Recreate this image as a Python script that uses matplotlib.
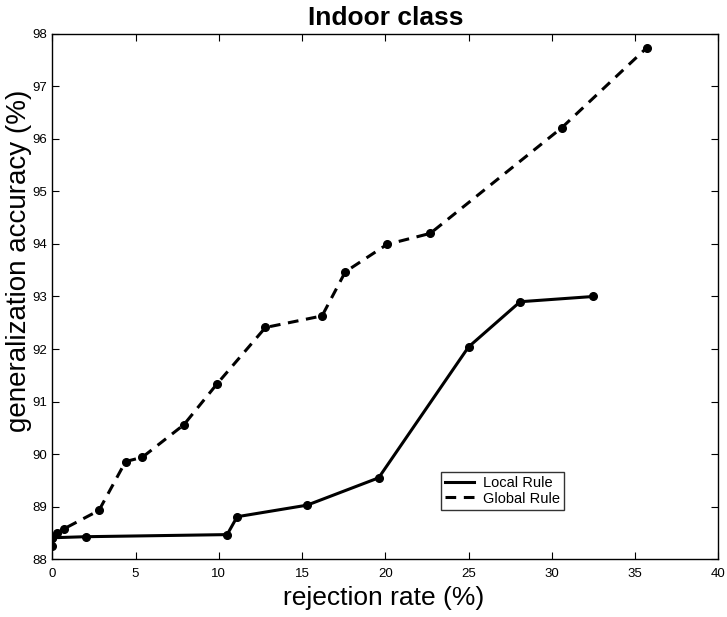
import matplotlib
matplotlib.use("Agg")
import matplotlib.pyplot as plt

plt.rcParams["font.family"] = ["Liberation Sans", "DejaVu Sans"]

# rejection rate (%) vs generalization accuracy (%)
local_x = [0.0, 0.0, 2.0, 10.5, 11.1, 15.3, 19.6, 25.0, 28.1, 32.5]
local_y = [88.25, 88.41, 88.43, 88.47, 88.81, 89.03, 89.55, 92.04, 92.90, 93.00]

global_x = [0.0, 0.3, 0.7, 2.8, 4.4, 5.4, 7.9, 9.9, 12.8, 16.2, 17.6, 20.1, 22.7, 30.6, 35.7]
global_y = [88.41, 88.51, 88.58, 88.93, 89.86, 89.94, 90.56, 91.34, 92.41, 92.63,
            93.47, 93.99, 94.20, 96.21, 97.73]

x_ticks = [0, 5, 10, 15, 20, 25, 30, 35, 40]
y_ticks = [88, 89, 90, 91, 92, 93, 94, 95, 96, 97, 98]

fig = plt.figure(figsize=(7.27, 6.17), dpi=100)
ax = fig.add_axes([0.072, 0.0935, 0.916, 0.852])

ax.plot(local_x, local_y, "-", color="black", linewidth=2.2,
        marker="o", markersize=5.5, label="Local Rule")
ax.plot(global_x, global_y, "--", color="black", linewidth=2.2,
        marker="o", markersize=5.5, dashes=(3.5, 2.5), label="Global Rule")

ax.set_xlim(0, 40)
ax.set_ylim(88, 98)
ax.set_xticks(x_ticks)
ax.set_yticks(y_ticks)
ax.tick_params(direction="in", top=True, right=True, labelsize=9.5,
               length=5, width=0.8)
ax.tick_params(axis="x", pad=6)
ax.tick_params(axis="y", pad=4)
for s in ax.spines.values():
    s.set_linewidth(1.0)

ax.set_xlabel("rejection rate (%)", fontsize=19)
ax.xaxis.set_label_coords(0.498, -0.05)
ax.set_ylabel("generalization accuracy (%)", fontsize=20)
ax.yaxis.set_label_coords(-0.03, 0.567)
ax.set_title("Indoor class", fontsize=19, fontweight="bold", pad=6)

leg = ax.legend(loc="lower left", bbox_to_anchor=(0.583, 0.094),
                borderaxespad=0, fontsize=10.5, frameon=True, fancybox=False,
                handlelength=2.0, borderpad=0.3, labelspacing=0.1,
                handletextpad=0.6)
leg.get_frame().set_edgecolor("black")
leg.get_frame().set_linewidth(1.0)
for h in leg.legend_handles:
    h.set_marker("")

fig.savefig("out.png", dpi=100)
